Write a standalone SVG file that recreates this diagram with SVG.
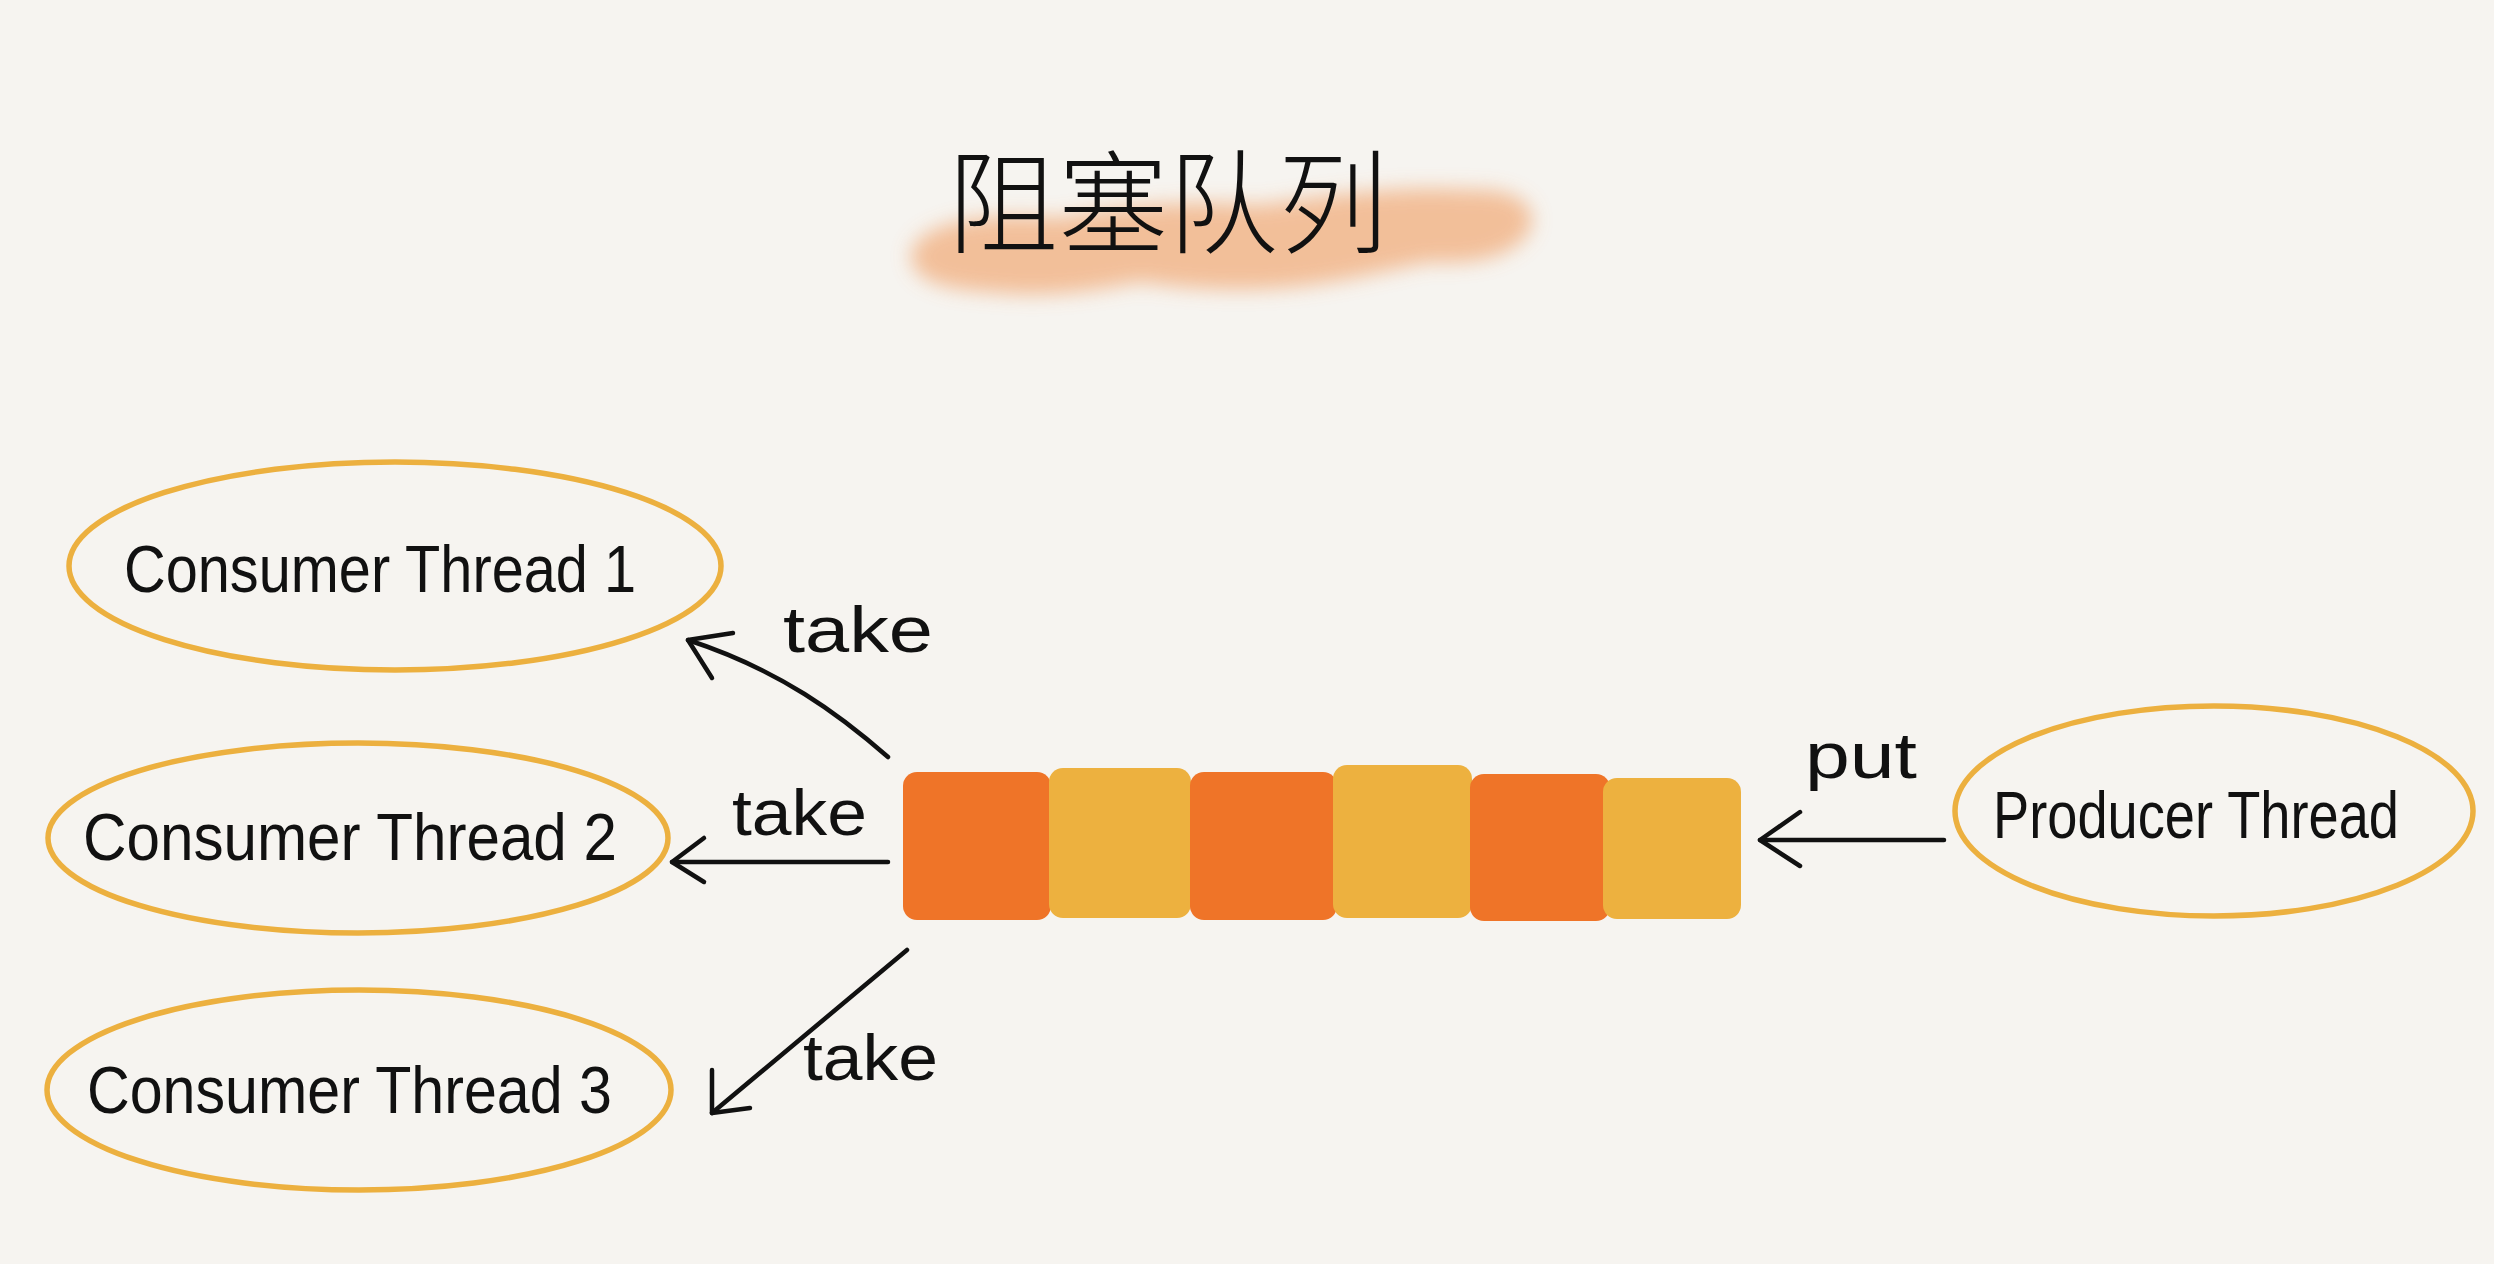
<svg xmlns="http://www.w3.org/2000/svg" width="2494" height="1264" viewBox="0 0 2494 1264">
  <style>
    .node ellipse { fill: none; stroke: #ECB03F; stroke-width: 5.5; }
    .lbl { font-family: "Liberation Sans", "DejaVu Sans", sans-serif; font-size: 66px; fill: #111; }
    .edge { fill: none; stroke: #111; stroke-width: 4.5; stroke-linecap: round; stroke-linejoin: round; }
    .elbl { font-family: "Liberation Sans", "DejaVu Sans", sans-serif; font-size: 64px; fill: #111; }
    .title { font-family: "Noto Sans CJK SC", "Noto Sans CJK JP", sans-serif; font-size: 112px; font-weight: 300; fill: #111; }
    .orange { fill: #EF7428; }
    .yellow { fill: #EDB13F; }
  </style>
  <defs>
    <filter id="blur" x="-20%" y="-50%" width="140%" height="200%">
      <feGaussianBlur stdDeviation="10"/>
    </filter>
  </defs>
  <rect width="2494" height="1264" fill="#F6F4F0"/>

  <g id="title">
    <g filter="url(#blur)" fill="#F2B68A" opacity="0.85">
      <path d="M912 250 C 925 220, 990 212, 1060 218 C 1120 205, 1190 200, 1260 205 C 1330 195, 1400 185, 1470 190 C 1515 188, 1540 205, 1530 230 C 1515 258, 1470 265, 1430 262 C 1380 272, 1330 285, 1280 288 C 1230 292, 1180 288, 1140 282 C 1090 292, 1040 298, 990 292 C 945 290, 905 280, 912 250 Z"/>
      <ellipse cx="1450" cy="220" rx="70" ry="30"/>
      <ellipse cx="1000" cy="262" rx="80" ry="30"/>
    </g>
    <text class="title" x="948" y="245" textLength="440" lengthAdjust="spacingAndGlyphs">阻塞队列</text>
  </g>

  <g id="consumer1" class="node">
    <ellipse cx="395" cy="566" rx="326" ry="104"/>
    <text class="lbl" x="124" y="592" textLength="512" lengthAdjust="spacingAndGlyphs">Consumer Thread 1</text>
  </g>
  <g id="consumer2" class="node">
    <ellipse cx="358" cy="838" rx="310" ry="95"/>
    <text class="lbl" x="83" y="860" textLength="534" lengthAdjust="spacingAndGlyphs">Consumer Thread 2</text>
  </g>
  <g id="consumer3" class="node">
    <ellipse cx="359" cy="1090" rx="312" ry="100"/>
    <text class="lbl" x="87" y="1113" textLength="525" lengthAdjust="spacingAndGlyphs">Consumer Thread 3</text>
  </g>
  <g id="producer" class="node">
    <ellipse cx="2214" cy="811" rx="259" ry="105"/>
    <text class="lbl" x="1993" y="838" textLength="406" lengthAdjust="spacingAndGlyphs">Producer Thread</text>
  </g>

  <g id="queue">
    <rect class="orange" x="903" y="772" width="148" height="148" rx="14"/>
    <rect class="yellow" x="1049" y="768" width="142" height="150" rx="14"/>
    <rect class="orange" x="1190" y="772" width="147" height="148" rx="14"/>
    <rect class="yellow" x="1333" y="765" width="139" height="153" rx="14"/>
    <rect class="orange" x="1470" y="774" width="140" height="147" rx="14"/>
    <rect class="yellow" x="1603" y="778" width="138" height="141" rx="14"/>
  </g>

  <g id="connectors">
    <path class="edge" d="M888 757 C 840 715, 780 670, 688 640"/>
    <path class="edge" d="M733 633 L 688 640 L 712 678"/>
    <text class="elbl" x="783" y="652" textLength="150" lengthAdjust="spacingAndGlyphs">take</text>

    <path class="edge" d="M888 862 L 672 862"/>
    <path class="edge" d="M704 838 L 672 862 L 704 882"/>
    <text class="elbl" x="732" y="835" textLength="135" lengthAdjust="spacingAndGlyphs">take</text>

    <path class="edge" d="M907 950 L 712 1113"/>
    <path class="edge" d="M712 1070 L 712 1113 L 750 1108"/>
    <text class="elbl" x="803" y="1080" textLength="135" lengthAdjust="spacingAndGlyphs">take</text>

    <path class="edge" d="M1944 840 L 1760 840"/>
    <path class="edge" d="M1800 812 L 1760 840 L 1800 866"/>
    <text class="elbl" x="1805" y="778" textLength="112" lengthAdjust="spacingAndGlyphs">put</text>
  </g>
</svg>
